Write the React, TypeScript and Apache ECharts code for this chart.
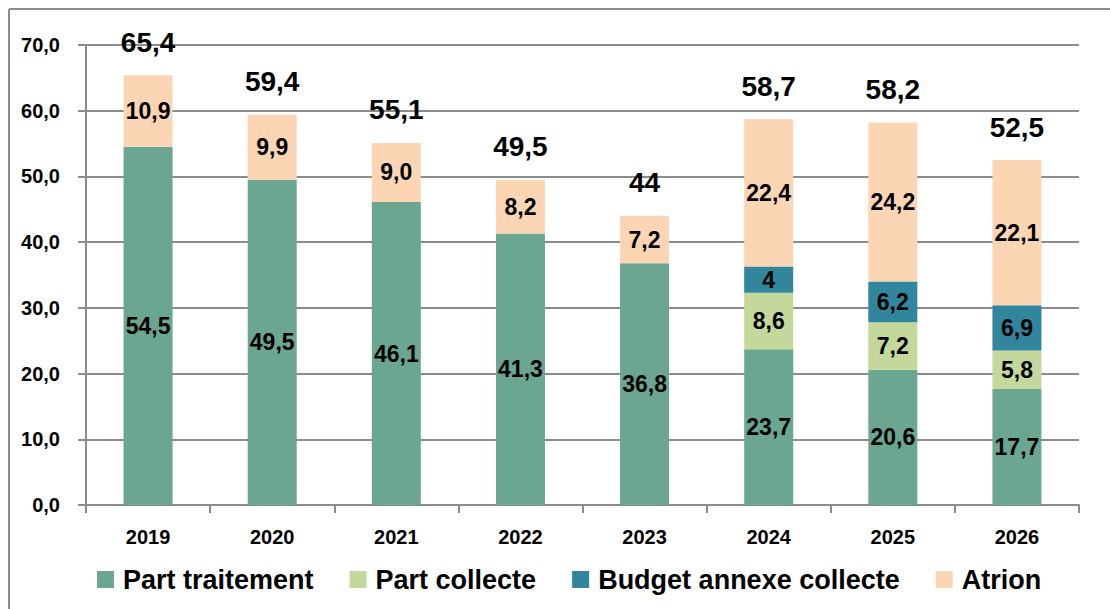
import React, { useEffect, useRef } from "react";
import * as echarts from "echarts";

const years = ["2019", "2020", "2021", "2022", "2023", "2024", "2025", "2026"];
const partTraitement = [54.5, 49.5, 46.1, 41.3, 36.8, 23.7, 20.6, 17.7];
const partCollecte = [null, null, null, null, null, 8.6, 7.2, 5.8];
const budgetAnnexe = [null, null, null, null, null, 4, 6.2, 6.9];
const atrion = [10.9, 9.9, 9.0, 8.2, 7.2, 22.4, 24.2, 22.1];
const totals = [65.4, 59.4, 55.1, 49.5, 44, 58.7, 58.2, 52.5];

const traitementLabels = ["54,5", "49,5", "46,1", "41,3", "36,8", "23,7", "20,6", "17,7"];
const collecteLabels = ["", "", "", "", "", "8,6", "7,2", "5,8"];
const budgetLabels = ["", "", "", "", "", "4", "6,2", "6,9"];
const atrionLabels = ["10,9", "9,9", "9,0", "8,2", "7,2", "22,4", "24,2", "22,1"];
const totalLabels = ["65,4", "59,4", "55,1", "49,5", "44", "58,7", "58,2", "52,5"];
const yTicks = [0, 10, 20, 30, 40, 50, 60, 70];

const FONT = "'Liberation Sans Narrow', 'Arial Narrow', 'Liberation Sans', Arial, sans-serif";
const GRAY = "#8c8c8c";

export default function App() {
  const ref = useRef<HTMLDivElement>(null);
  useEffect(() => {
    if (!ref.current) return;
    const chart = echarts.init(ref.current, null, { renderer: "svg" });
    const inside = (labels: string[]) => ({
      show: true,
      position: "inside" as const,
      formatter: (p: any) => labels[p.dataIndex],
      fontFamily: FONT,
      fontWeight: "bold" as const,
      fontSize: 23,
      color: "#000",
    });
    const barW = 49;
    chart.setOption({
      animation: false,
      backgroundColor: "#fff",
      textStyle: { fontFamily: FONT },
      grid: { left: 86, right: 31, top: 45, bottom: 104 },
      legend: {
        data: ["Part traitement", "Part collecte", "Budget annexe collecte", "Atrion"],
        left: 92,
        top: 561,
        icon: "rect",
        itemWidth: 17,
        itemHeight: 17,
        itemGap: 36,
        textStyle: { fontFamily: FONT, fontWeight: "bold", fontSize: 27, color: "#000", padding: [0, 0, 0, 4] },
      },
      xAxis: {
        type: "category",
        data: years,
        axisLine: { lineStyle: { color: GRAY, width: 2 } },
        axisTick: { show: true, length: 8, lineStyle: { color: GRAY, width: 2 } },
        axisLabel: { fontFamily: FONT, fontWeight: "bold", fontSize: 20, color: "#000", margin: 22 },
      },
      yAxis: {
        type: "value",
        min: yTicks[0],
        max: yTicks[yTicks.length - 1],
        interval: 10,
        axisLine: { show: true, lineStyle: { color: GRAY, width: 2 } },
        axisTick: { show: true, length: 8, lineStyle: { color: GRAY, width: 2 } },
        splitLine: { lineStyle: { color: GRAY, width: 2 } },
        axisLabel: {
          fontFamily: FONT,
          fontWeight: "bold",
          fontSize: 20,
          color: "#000",
          margin: 26,
          formatter: (v: number) => v.toFixed(1).replace(".", ","),
        },
      },
      series: [
        {
          name: "Part traitement",
          type: "bar",
          stack: "a",
          barWidth: barW,
          data: partTraitement,
          itemStyle: { color: "#6aa690" },
          label: inside(traitementLabels),
        },
        {
          name: "Part collecte",
          type: "bar",
          stack: "a",
          barWidth: barW,
          data: partCollecte,
          itemStyle: { color: "#c4d89c" },
          label: inside(collecteLabels),
        },
        {
          name: "Budget annexe collecte",
          type: "bar",
          stack: "a",
          barWidth: barW,
          data: budgetAnnexe,
          itemStyle: { color: "#31859c" },
          label: inside(budgetLabels),
        },
        {
          name: "Atrion",
          type: "bar",
          stack: "a",
          barWidth: barW,
          data: atrion,
          itemStyle: { color: "#fcd5b5" },
          label: inside(atrionLabels),
        },
        {
          name: "Total",
          type: "bar",
          stack: "a",
          barWidth: barW,
          data: totals.map(() => 0),
          itemStyle: { color: "transparent" },
          label: {
            show: true,
            position: "top",
            distance: 19,
            formatter: (p: any) => totalLabels[p.dataIndex],
            fontFamily: FONT,
            fontWeight: "bold",
            fontSize: 28,
            color: "#000",
          },
        },
      ],
      graphic: [
        { type: "line", shape: { x1: 9, y1: 9, x2: 1110, y2: 9 }, style: { stroke: GRAY, lineWidth: 2 } },
        { type: "line", shape: { x1: 9, y1: 9, x2: 9, y2: 609 }, style: { stroke: GRAY, lineWidth: 2 } },
      ],
    });
    return () => chart.dispose();
  }, []);
  return <div ref={ref} style={{ position: "fixed", left: 0, top: 0, width: 1110, height: 609 }} />;
}
